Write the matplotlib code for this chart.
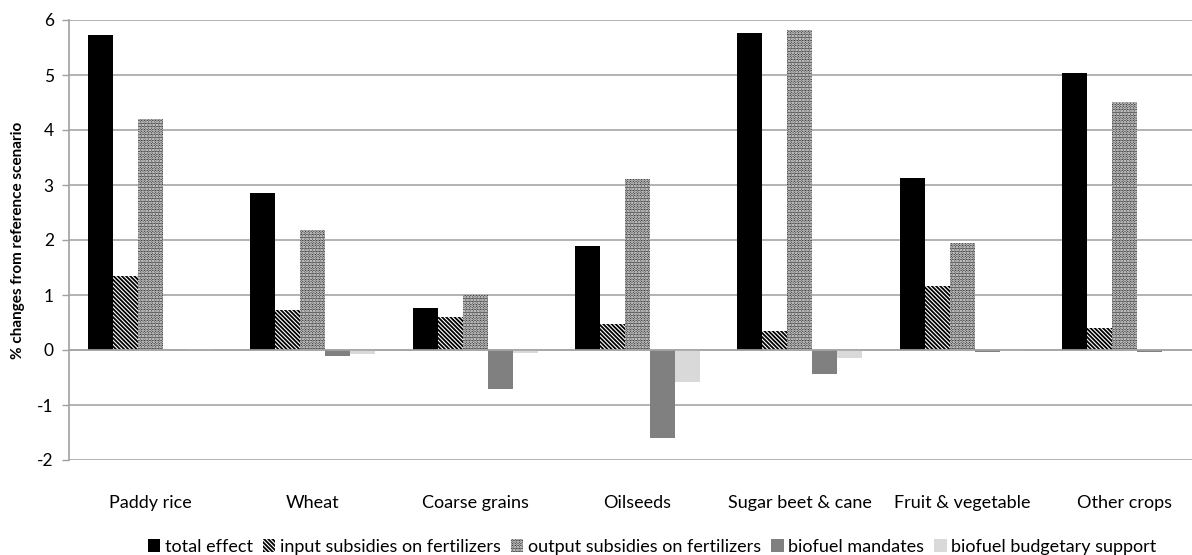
import matplotlib.pyplot as plt
import numpy as np

plt.rcParams['font.family'] = ['Lato', 'DejaVu Sans']
plt.rcParams['axes.unicode_minus'] = False
plt.rcParams['hatch.linewidth'] = 1.3

crops = ['Paddy rice', 'Wheat', 'Coarse grains', 'Oilseeds',
         'Sugar beet & cane', 'Fruit & vegetable', 'Other crops']

total_effect = [5.73, 2.86, 0.76, 1.89, 5.77, 3.12, 5.03]
input_subsidies = [1.35, 0.72, 0.60, 0.47, 0.34, 1.17, 0.40]
output_subsidies = [4.20, 2.18, 1.00, 3.11, 5.82, 1.94, 4.51]
biofuel_mandates = [0.00, -0.10, -0.71, -1.60, -0.44, -0.04, -0.03]
biofuel_budget = [0.02, -0.07, -0.06, -0.59, -0.145, -0.01, 0.00]

series = [
    ('total effect', total_effect, dict(color='black')),
    ('input subsidies on fertilizers', input_subsidies,
     dict(facecolor='white', edgecolor='black', hatch='\\' * 8, linewidth=0)),
    ('output subsidies on fertilizers', output_subsidies,
     dict(facecolor='#3a3a3a', edgecolor='white', hatch='......', linewidth=0)),
    ('biofuel mandates', biofuel_mandates, dict(color='#808080')),
    ('biofuel budgetary support', biofuel_budget, dict(color='#d9d9d9')),
]

fig = plt.figure(figsize=(11.92, 5.55), dpi=100)
# plot area runs a little past the right edge of the figure
ax = fig.add_axes([69 / 1192, 1 - 460 / 555, 1137 / 1192, 440 / 555])

x = np.arange(len(crops)) + 0.5
w = 25 / 162.5
handles = []
for k, (name, vals, style) in enumerate(series):
    b = ax.bar(x + (k - 2) * w, vals, width=w, label=name, zorder=3, **style)
    handles.append(b)

ax.set_xlim(0, len(crops))
ax.set_ylim(-2, 6)
ax.set_yticks(range(-2, 7))
ax.set_xticks(x)
ax.set_xticklabels(crops, fontsize=13)
ax.tick_params(axis='x', length=0, pad=25)
ax.tick_params(axis='y', length=5, color='#a0a0a0', width=1, labelsize=12.5, pad=6)
ax.yaxis.grid(True, color='#a6a6a6', linewidth=1.2, zorder=0)
ax.axhline(0, color='#a6a6a6', linewidth=1.2, zorder=4)
for side in ('top', 'right', 'bottom'):
    ax.spines[side].set_visible(False)
ax.spines['left'].set_color('#a0a0a0')
ax.spines['left'].set_linewidth(1.2)

ax.set_ylabel('% changes from reference scenario', fontsize=11,
              fontweight='bold', labelpad=9)

# legend centred under the plot area, not the figure
fig.legend(handles=handles, loc='center', bbox_to_anchor=(652 / 1192, 1 - 547 / 555),
           ncol=5, frameon=False, fontsize=13, handlelength=0.7,
           handleheight=0.7, handletextpad=0.25, columnspacing=0.55)

fig.savefig('out.png', dpi=100)
